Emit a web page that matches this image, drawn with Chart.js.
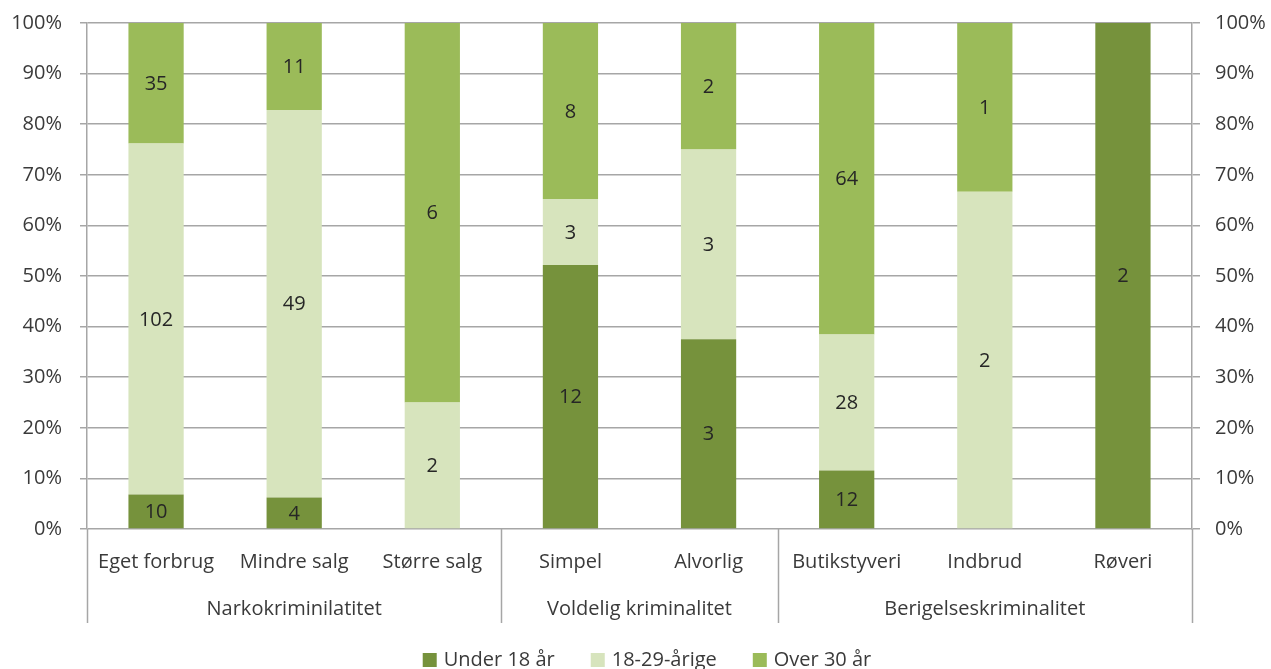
<!DOCTYPE html>
<html>
<head>
<meta charset="utf-8">
<script src="https://cdn.jsdelivr.net/npm/chart.js@4"></script>
<style>
  html, body { margin: 0; padding: 0; background: #fff; }
  #wrap { width: 1271px; height: 669px; }
</style>
</head>
<body>
<div id="wrap"><canvas id="crimeChart" width="1271" height="669"></canvas></div>
<script>
// categories and groups
const categories = ["Eget forbrug", "Mindre salg", "Større salg", "Simpel", "Alvorlig", "Butikstyveri", "Indbrud", "Røveri"];
const groups = ["Narkokriminilatitet", "Voldelig kriminalitet", "Berigelseskriminalitet"];
const groupSizes = [3, 2, 3];

// counts per age group
const under18 = [10, 4, 0, 12, 3, 12, 0, 2];
const age18to29 = [102, 49, 2, 3, 3, 28, 2, 0];
const over30 = [35, 11, 6, 8, 2, 64, 1, 0];

const yTicks = [0, 10, 20, 30, 40, 50, 60, 70, 80, 90, 100];

const FONT = "'Open Sans', sans-serif";
const TEXT = "#3a3a3a";
const GRID = "#a6a6a6";

const totals = categories.map((c, i) => under18[i] + age18to29[i] + over30[i]);
const toPct = arr => arr.map((v, i) => totals[i] ? v / totals[i] * 100 : 0);

const series = [
  { label: "Under 18 år", counts: under18, color: "#76923c" },
  { label: "18-29-årige", counts: age18to29, color: "#d7e4bd" },
  { label: "Over 30 år", counts: over30, color: "#9bbb59" }
];

// labels in bars, group axis, custom legend
const extrasPlugin = {
  id: "extras",
  afterDatasetsDraw(chart) {
    const ctx = chart.ctx;
    ctx.save();
    ctx.font = "20px " + FONT;
    ctx.fillStyle = "#262626";
    ctx.textAlign = "center";
    ctx.textBaseline = "middle";
    chart.data.datasets.forEach((ds, di) => {
      chart.getDatasetMeta(di).data.forEach((bar, i) => {
        const n = series[di].counts[i];
        if (!n) return;
        ctx.fillText(String(n), bar.x, (bar.y + bar.base) / 2 + 1);
      });
    });
    ctx.restore();
  },
  afterDraw(chart) {
    const ctx = chart.ctx;
    const area = chart.chartArea;
    const x = chart.scales.x;
    const step = x.getPixelForValue(1) - x.getPixelForValue(0);
    const lineBottom = area.bottom + 94;

    ctx.save();
    ctx.strokeStyle = GRID;
    ctx.lineWidth = 1.5;

    // separators: start, group boundaries, end
    let idx = 0;
    const bounds = [x.getPixelForValue(0) - step / 2];
    groupSizes.forEach(s => { idx += s; bounds.push(x.getPixelForValue(idx - 1) + step / 2); });
    bounds.forEach(bx => {
      ctx.beginPath();
      ctx.moveTo(Math.round(bx) + 0.5, area.bottom);
      ctx.lineTo(Math.round(bx) + 0.5, lineBottom);
      ctx.stroke();
    });

    ctx.font = "20px " + FONT;
    ctx.fillStyle = TEXT;
    ctx.textAlign = "center";
    ctx.textBaseline = "middle";
    groups.forEach((g, gi) => {
      ctx.fillText(g, (bounds[gi] + bounds[gi + 1]) / 2, area.bottom + 80);
    });

    // legend
    const box = 14, gapText = 7, gapItem = 36;
    const widths = series.map(s => ctx.measureText(s.label).width);
    const total = widths.reduce((a, w) => a + box + gapText + w, 0) + gapItem * (series.length - 1);
    let lx = 647 - total / 2;
    const ly = 660;
    ctx.textAlign = "left";
    series.forEach((s, i) => {
      ctx.fillStyle = s.color;
      ctx.fillRect(lx, ly - box / 2, box, box);
      ctx.fillStyle = TEXT;
      ctx.fillText(s.label, lx + box + gapText, ly);
      lx += box + gapText + widths[i] + gapItem;
    });
    ctx.restore();
  }
};

function fitY(width) {
  return scale => {
    scale.width = width;
    scale.paddingTop = 0;
    scale.paddingBottom = 0;
  };
}

new Chart(document.getElementById("crimeChart"), {
  type: "bar",
  data: {
    labels: categories,
    datasets: series.map(s => ({
      label: s.label,
      data: toPct(s.counts),
      backgroundColor: s.color,
      categoryPercentage: 1,
      barPercentage: 0.4
    }))
  },
  options: {
    responsive: false,
    animation: false,
    layout: { padding: { top: 23, left: 0, right: 0, bottom: 0 } },
    plugins: {
      legend: { display: false },
      tooltip: { enabled: false }
    },
    scales: {
      x: {
        stacked: true,
        grid: { display: false, drawTicks: false },
        border: { display: false },
        ticks: {
          autoSkip: false,
          maxRotation: 0,
          padding: 21,
          color: TEXT,
          font: { family: FONT, size: 20 }
        },
        afterFit(scale) {
          scale.height = 140;
          scale.paddingLeft = 0;
          scale.paddingRight = 0;
        }
      },
      y: {
        stacked: true,
        min: 0,
        max: 100,
        afterBuildTicks(scale) { scale.ticks = yTicks.map(v => ({ value: v })); },
        grid: { color: GRID, lineWidth: 1.5, tickLength: 7 },
        border: { color: GRID, width: 1.5 },
        ticks: {
          padding: 18,
          color: TEXT,
          font: { family: FONT, size: 20 },
          callback: v => v + "%"
        },
        afterFit: fitY(87)
      },
      y2: {
        position: "right",
        min: 0,
        max: 100,
        afterBuildTicks(scale) { scale.ticks = yTicks.map(v => ({ value: v })); },
        grid: { drawOnChartArea: false, color: GRID, lineWidth: 1.5, tickLength: 8 },
        border: { color: GRID, width: 1.5 },
        ticks: {
          padding: 15,
          color: TEXT,
          font: { family: FONT, size: 20 },
          callback: v => v + "%"
        },
        afterFit: fitY(79)
      }
    }
  },
  plugins: [extrasPlugin]
});
</script>
</body>
</html>
